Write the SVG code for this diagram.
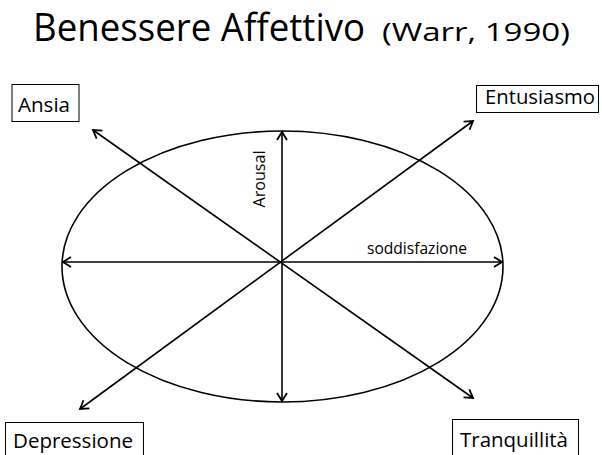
<svg xmlns="http://www.w3.org/2000/svg" width="602" height="455" viewBox="0 0 602 455">
<defs>
<style>
text{font-family:"Open Sans","Liberation Sans",sans-serif;fill:#000}
.box{fill:#fff;stroke:#000;stroke-width:1}
.lbl{font-size:20px}
.ax{stroke:#000;stroke-width:1.6;fill:none;marker-start:url(#ah);marker-end:url(#ah)}
</style>
<marker id="ah" markerUnits="userSpaceOnUse" markerWidth="14" markerHeight="14" viewBox="-10 -7 12 14" refX="0" refY="0" orient="auto-start-reverse">
<path d="M-8,-5 L0,0 L-8,5" fill="none" stroke="#000" stroke-width="1.8"/>
</marker>
</defs>
<rect width="602" height="455" fill="#fff"/>
<g id="title">
<text x="33" y="41" font-size="38" textLength="332" lengthAdjust="spacingAndGlyphs">Benessere Affettivo</text>
<text x="382" y="41" font-size="25" textLength="188" lengthAdjust="spacingAndGlyphs">(Warr, 1990)</text>
</g>
<g id="ellipse">
<ellipse cx="282.5" cy="266.5" rx="220.5" ry="135.5" fill="none" stroke="#000" stroke-width="1.6"/>
</g>
<g id="connectors">
<line class="ax" x1="282" y1="132" x2="282" y2="401"/>
<line class="ax" x1="63" y1="262" x2="502" y2="262"/>
<line class="ax" x1="93" y1="130" x2="473" y2="398"/>
<line class="ax" x1="473" y1="121" x2="80" y2="409"/>
</g>
<g id="axis-labels">
<text x="467" y="254" font-size="16" text-anchor="end" textLength="100" lengthAdjust="spacingAndGlyphs">soddisfazione</text>
<text transform="translate(265,179) rotate(-90)" font-size="16" text-anchor="middle" textLength="57" lengthAdjust="spacingAndGlyphs">Arousal</text>
</g>
<g id="ansia">
<rect class="box" x="12" y="84.5" width="67" height="37"/>
<text class="lbl" x="18" y="112" textLength="52" lengthAdjust="spacingAndGlyphs">Ansia</text>
</g>
<g id="entusiasmo">
<rect class="box" x="476.5" y="85.5" width="122" height="27"/>
<text class="lbl" x="485" y="104" textLength="110" lengthAdjust="spacingAndGlyphs">Entusiasmo</text>
</g>
<g id="depressione">
<rect class="box" x="5.5" y="422.5" width="138" height="40"/>
<text class="lbl" x="13" y="448" textLength="120" lengthAdjust="spacingAndGlyphs">Depressione</text>
</g>
<g id="tranquillita">
<rect class="box" x="452.5" y="419.5" width="126" height="43"/>
<text class="lbl" x="460" y="447" textLength="108" lengthAdjust="spacingAndGlyphs">Tranquillità</text>
</g>
</svg>
